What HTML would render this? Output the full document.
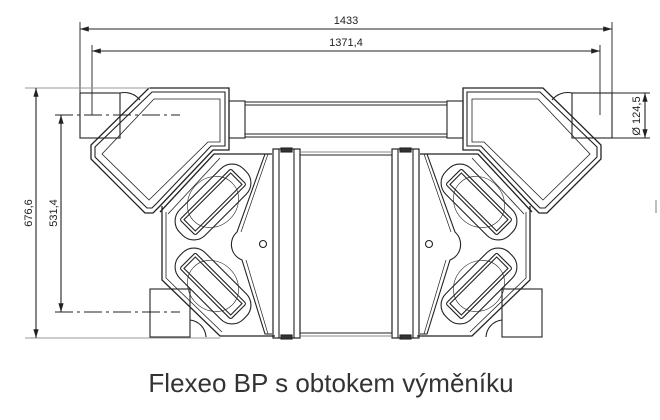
<!DOCTYPE html><html><head><style>body{margin:0;background:#fff}svg{display:block}</style></head><body>
<svg width="660" height="420" viewBox="0 0 660 420" xmlns="http://www.w3.org/2000/svg" font-family="Liberation Sans, sans-serif">
<defs>
<marker id="a" viewBox="0 0 10 6" refX="10" refY="3" markerWidth="8" markerHeight="5" orient="auto-start-reverse"><path d="M0,0L10,3L0,6z" fill="#222"/></marker>
<g id="half" fill="none" stroke="#222" stroke-width="1.1">
  <rect x="80" y="93" width="40" height="45"/>
  <path d="M120,93 A20,20 0 0 1 140,100"/>
  <path d="M149,88 L229,88 L229,150 L213,150 L160,206 L153,213 L145,213 L91,159 L91,145 Z" stroke-width="1.3"/>
  <path d="M152,92 L225,92 L225,146 L211,146 L157,203 L152,208 L147,208 L95,157 L95,147 Z"/>
  <path d="M154,99 L220,99 L220,142 L208,142 L149,200 L102,154 Z" stroke-width="0.8"/>
  <rect x="229" y="101" width="16" height="37"/>
  <rect x="150" y="289" width="40" height="48"/>
  <path d="M190,320 A18,18 0 0 1 206,337"/>
  <path d="M160,212 L214,154 L272,154 M162,206 L162,280 L220,336 L275,336" stroke-width="1.3"/>
  <path d="M166,212 L166,278 L222,332 M168,214 L220,158" stroke-width="0.8"/>
  <rect x="273" y="149" width="27" height="189" stroke-width="1.2"/>
  <line x1="279" y1="149" x2="279" y2="338"/>
  <line x1="294" y1="149" x2="294" y2="338"/>
  <rect x="281" y="148" width="11" height="4" fill="#333"/>
  <rect x="281" y="335" width="11" height="4" fill="#333"/>
  <path d="M272,154 L265,154 L237,232 C228,240 230,255 242,260 L265,334 L272,334" />
  <path d="M268,154 L241,232 M246,260 L268,334" stroke-width="0.7"/>
  <circle cx="263" cy="244" r="3.5"/>
  <g transform="translate(213,202) rotate(-45)">
    <rect x="-45" y="-18" width="90" height="36" rx="16"/>
    <rect x="-36" y="-11" width="72" height="22" rx="2"/>
    <rect x="-33" y="-8" width="66" height="16"/>
    <ellipse cx="0" cy="0" rx="27" ry="24" stroke-width="0.6"/>
  </g>
  <g transform="translate(213,286) rotate(45)">
    <rect x="-45" y="-18" width="90" height="36" rx="16"/>
    <rect x="-36" y="-11" width="72" height="22" rx="2"/>
    <rect x="-33" y="-8" width="66" height="16"/>
    <ellipse cx="0" cy="0" rx="27" ry="24" stroke-width="0.6"/>
  </g>
</g>
</defs>
<use href="#half"/>
<use href="#half" transform="translate(692,0) scale(-1,1)"/>
<g fill="none" stroke="#222" stroke-width="1.1">
  <path d="M245,102 L447,102 M245,105 L447,105 M245,134 L447,134 M245,137 L447,137"/>
  <path d="M300,155 L392,155 M300,333 L392,333"/>
  <path d="M300,152 L392,152 M300,336 L392,336" stroke="#888"/>
  <path d="M80,22 L80,93 M612,22 L612,93 M92,45 L92,115 M600,45 L600,115" stroke-width="0.9"/>
  <line x1="80" y1="29" x2="612" y2="29" marker-start="url(#a)" marker-end="url(#a)"/>
  <line x1="92" y1="51" x2="600" y2="51" marker-start="url(#a)" marker-end="url(#a)"/>
  <path d="M25,88 L150,88 M25,338 L220,338" stroke="#999"/>
  <line x1="36" y1="88" x2="36" y2="338" marker-start="url(#a)" marker-end="url(#a)"/>
  <path d="M55,115 L180,115 M55,312 L180,312" stroke-dasharray="18,4,3,4" stroke-width="0.9"/>
  <line x1="61" y1="115" x2="61" y2="312" marker-start="url(#a)" marker-end="url(#a)"/>
  <path d="M612,93 L650,93 M612,138 L650,138" stroke-width="0.9"/>
  <line x1="645" y1="93" x2="645" y2="138" marker-start="url(#a)" marker-end="url(#a)"/>
  <path d="M656,200 L656,213" stroke="#888"/>
</g>
<g fill="#222" font-size="11">
  <text x="346" y="24" text-anchor="middle">1433</text>
  <text x="346" y="46" text-anchor="middle">1371,4</text>
  <text transform="translate(32,213) rotate(-90)" text-anchor="middle">676,6</text>
  <text transform="translate(57,213) rotate(-90)" text-anchor="middle">531,4</text>
  <text transform="translate(640,116) rotate(-90)" text-anchor="middle">Ø 124,5</text>
</g>
<text x="331" y="392" text-anchor="middle" font-size="26" fill="#333">Flexeo BP s obtokem výměníku</text>
</svg>
</body></html>
